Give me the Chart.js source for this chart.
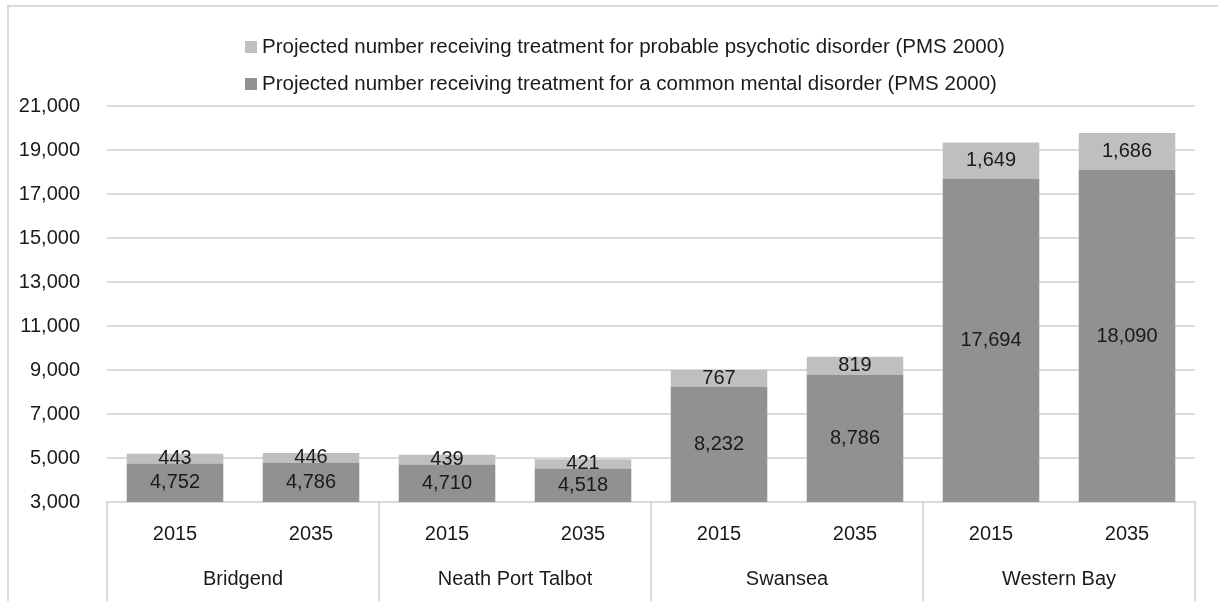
<!DOCTYPE html>
<html>
<head>
<meta charset="utf-8">
<script src="https://cdn.jsdelivr.net/npm/chart.js@4/dist/chart.umd.min.js"></script>
<style>
  body { margin: 0; background: #fff; }
  canvas { display: block; }
</style>
</head>
<body>
<canvas id="myChart" width="1218" height="601"></canvas>
<script>
const ctx = document.getElementById('myChart');

// data
const regions = ['Bridgend', 'Neath Port Talbot', 'Swansea', 'Western Bay'];
const years = ['2015', '2035', '2015', '2035', '2015', '2035', '2015', '2035'];
const commonDisorder = [4752, 4786, 4710, 4518, 8232, 8786, 17694, 18090];
const psychoticDisorder = [443, 446, 439, 421, 767, 819, 1649, 1686];
const yTicks = [3000, 21000, 2000];

const fontFamily = '"Liberation Sans", Arial, sans-serif';
const textColor = '#1a1a1a';
const gridColor = '#d9d9d9';
const colors = ['#919191', '#bfbfbf'];

// chart frame (only top and left edges are visible in the picture)
const chartFrame = {
    id: 'chartFrame',
    beforeDraw(chart) {
        const {ctx} = chart;
        ctx.save();
        ctx.fillStyle = '#fff';
        ctx.fillRect(0, 0, chart.width, chart.height);
        ctx.strokeStyle = gridColor;
        ctx.lineWidth = 2;
        ctx.strokeRect(8, 6, chart.width + 20, chart.height + 20);
        ctx.restore();
    }
}

// legend: two rows, left aligned in one block, top series first
const blockLegend = {
    id: 'blockLegend',
    afterDraw(chart) {
        const {ctx} = chart;
        const rows = [1, 0];
        ctx.save();
        ctx.font = '20.5px ' + fontFamily;
        ctx.textBaseline = 'middle';
        rows.forEach((dsIndex, i) => {
            const ds = chart.data.datasets[dsIndex];
            const y = 47 + i * 37;
            ctx.fillStyle = ds.backgroundColor;
            ctx.fillRect(245, y - 6, 12, 12);
            ctx.fillStyle = textColor;
            ctx.fillText(ds.label, 262, y);
        });
        ctx.restore();
    }
}

// value labels centred in the visible part of each segment
const segmentLabels = {
    id: 'segmentLabels',
    afterDatasetsDraw(chart) {
        const {ctx, chartArea} = chart;
        ctx.save();
        ctx.font = '20px ' + fontFamily;
        ctx.fillStyle = textColor;
        ctx.textAlign = 'center';
        ctx.textBaseline = 'middle';
        chart.data.datasets.forEach((ds, di) => {
            chart.getDatasetMeta(di).data.forEach((bar, i) => {
                const bottom = Math.min(bar.base, chartArea.bottom);
                const y = (bar.y + bottom) / 2;
                ctx.fillText(ds.data[i].toLocaleString('en-US'), bar.x, y);
            });
        });
        ctx.restore();
    }
}

// second level of the category axis: region names and separators
const regionAxis = {
    id: 'regionAxis',
    afterDraw(chart) {
        const {ctx, chartArea} = chart;
        const x = chart.scales.x;
        const per = years.length / regions.length;
        const half = (x.getPixelForValue(1) - x.getPixelForValue(0)) / 2;
        ctx.save();
        ctx.strokeStyle = gridColor;
        ctx.lineWidth = 2;
        for (let r = 0; r <= regions.length; r++) {
            const idx = Math.min(r * per, years.length - 1);
            const px = r * per < years.length ? x.getPixelForValue(idx) - half : x.getPixelForValue(idx) + half;
            ctx.beginPath();
            ctx.moveTo(px, chartArea.bottom);
            ctx.lineTo(px, chart.height);
            ctx.stroke();
        }
        ctx.font = '20px ' + fontFamily;
        ctx.fillStyle = textColor;
        ctx.textAlign = 'center';
        ctx.textBaseline = 'middle';
        regions.forEach((name, r) => {
            const a = x.getPixelForValue(r * per);
            const b = x.getPixelForValue(r * per + per - 1);
            ctx.fillText(name, (a + b) / 2, 579);
        });
        ctx.restore();
    }
}

const chart = new Chart(ctx, {
    type: 'bar',
    data: {
        labels: years,
        datasets: [
            {
                label: 'Projected number receiving treatment for a common mental disorder (PMS 2000)',
                data: commonDisorder,
                backgroundColor: colors[0]
            },
            {
                label: 'Projected number receiving treatment for probable psychotic disorder (PMS 2000)',
                data: psychoticDisorder,
                backgroundColor: colors[1]
            }
        ]
    },
    options: {
        responsive: false,
        animation: false,
        events: [],
        layout: {
            padding: {top: 106, right: 23, left: 0, bottom: 0}
        },
        datasets: {
            bar: {categoryPercentage: 1, barPercentage: 0.71}
        },
        scales: {
            x: {
                stacked: true,
                grid: {display: false, drawTicks: false},
                border: {color: gridColor, width: 2},
                ticks: {
                    color: textColor,
                    font: {family: fontFamily, size: 20},
                    padding: 20,
                    maxRotation: 0
                },
                afterFit(scale) { scale.height = 99; }
            },
            y: {
                stacked: true,
                min: yTicks[0],
                max: yTicks[1],
                grid: {color: gridColor, lineWidth: 2, drawTicks: false},
                border: {display: false},
                ticks: {
                    stepSize: yTicks[2],
                    color: textColor,
                    font: {family: fontFamily, size: 20},
                    padding: 27,
                    callback: v => v.toLocaleString('en-US')
                },
                afterFit(scale) { scale.width = 107; }
            }
        },
        plugins: {
            legend: {display: false},
            tooltip: {enabled: false}
        }
    },
    plugins: [chartFrame, segmentLabels, regionAxis, blockLegend]
});
</script>
</body>
</html>
